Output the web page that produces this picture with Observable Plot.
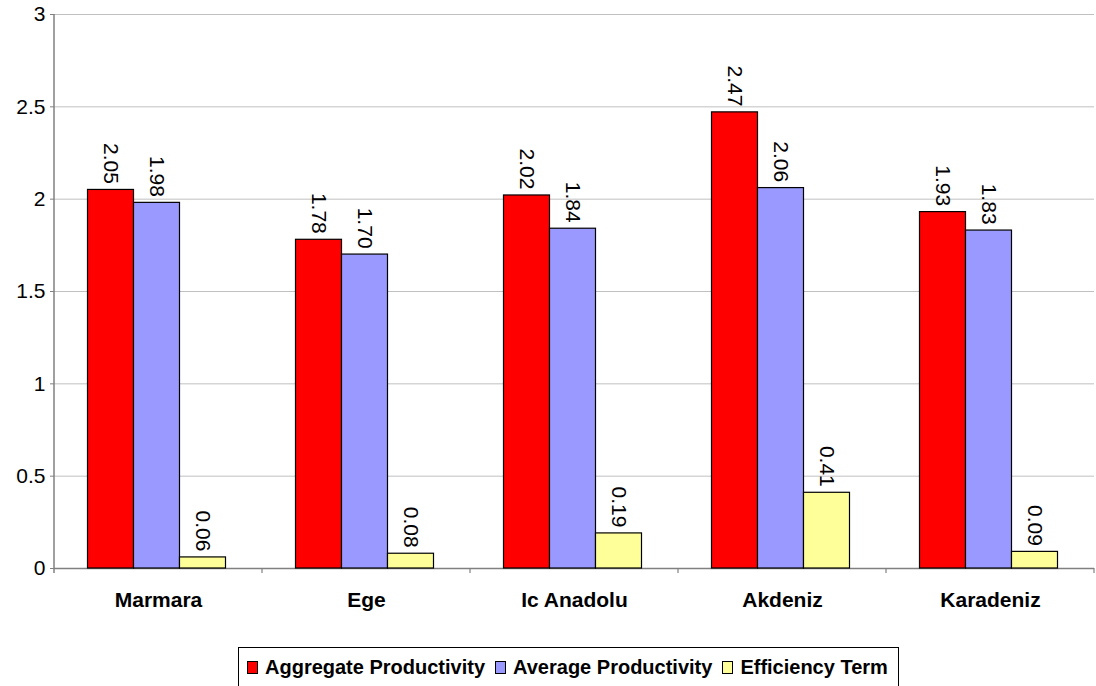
<!DOCTYPE html>
<html>
<head>
<meta charset="utf-8">
<script src="https://cdn.jsdelivr.net/npm/d3@7"></script>
<script src="https://cdn.jsdelivr.net/npm/@observablehq/plot@0.6"></script>
<style>
  body { margin: 0; background: #fff; font-family: Arial, "Liberation Sans", sans-serif; }
  #wrap { position: relative; width: 1096px; height: 686px; overflow: hidden; }
  #legend {
    position: absolute; left: 238px; top: 647px; height: 40px;
    border: 1px solid #000; box-sizing: border-box; background: #fff;
    display: inline-flex; align-items: center; padding: 0 10px 0 8px;
    font-weight: bold; font-size: 20px; color: #000;
  }
  #legend .item { display: flex; align-items: center; margin-right: 10px; white-space: nowrap; }
  #legend .item:last-child { margin-right: 0; }
  #legend .swatch { width: 9px; height: 11px; border: 1px solid #000; margin-right: 7px; }
</style>
</head>
<body>
<div id="wrap">
  <div id="chart"></div>
  <div id="legend"></div>
</div>
<script>
// Regional productivity decomposition
const regions = ["Marmara", "Ege", "Ic Anadolu", "Akdeniz", "Karadeniz"];
const series = ["Aggregate Productivity", "Average Productivity", "Efficiency Term"];
const aggregate = [2.05, 1.78, 2.02, 2.47, 1.93];
const average = [1.98, 1.70, 1.84, 2.06, 1.83];
const efficiency = [0.06, 0.08, 0.19, 0.41, 0.09];
const colors = ["#ff0000", "#9999ff", "#ffff99"];
const yTicks = [0, 0.5, 1, 1.5, 2, 2.5, 3];

const rows = regions.flatMap((region, i) =>
  [aggregate[i], average[i], efficiency[i]].map((value, j) => ({ region, series: series[j], value }))
);

const font = "Arial, 'Liberation Sans', sans-serif";

const chart = Plot.plot({
  width: 1096,
  height: 630,
  marginTop: 14,
  marginBottom: 62,
  marginLeft: 52,
  marginRight: 0,
  style: { fontFamily: font, fontSize: "21px", color: "#000", background: "#fff" },
  fx: { domain: regions, padding: 0, label: null },
  x: { domain: series, paddingInner: 0, paddingOuter: 0.75, axis: null },
  y: { domain: [0, 3], label: null },
  color: { domain: series, range: colors },
  marks: [
    Plot.gridY(yTicks.filter(d => d > 0), { stroke: "#c0c0c0", strokeOpacity: 1, strokeWidth: 1 }),
    Plot.axisY(yTicks, {
      tickSize: 4, tickPadding: 5, stroke: "#808080",
      tickFormat: d => String(d), label: null
    }),
    Plot.axisFx({ anchor: "bottom", tickSize: 0, tickPadding: 24, fontWeight: "bold", label: null }),
    Plot.ruleY([0], { stroke: "#808080", strokeWidth: 1.5 }),
    Plot.barY(rows, {
      fx: "region", x: "series", y: "value", fill: "series",
      stroke: "#000", strokeWidth: 1.2, dx: -1.5
    }),
    Plot.text(rows, {
      fx: "region", x: "series", y: "value",
      text: d => d.value.toFixed(2),
      rotate: 90, textAnchor: "end", dy: -6, dx: -1.5, fill: "#000"
    })
  ]
});

document.getElementById("chart").appendChild(chart);

// Vertical axis line and category boundary ticks along the baseline
const fx = chart.scale("fx");
const y = chart.scale("y");
const svg = d3.select(chart);
const x0 = fx.apply(regions[0]);
const base = y.apply(0);
svg.append("line")
  .attr("x1", x0).attr("x2", x0)
  .attr("y1", y.apply(3)).attr("y2", base + 5)
  .attr("stroke", "#808080").attr("stroke-width", 1.5);
const bounds = regions.map(r => fx.apply(r)).concat([fx.apply(regions[regions.length - 1]) + fx.bandwidth]);
svg.selectAll(null).data(bounds.slice(1)).join("line")
  .attr("x1", d => d).attr("x2", d => d)
  .attr("y1", base).attr("y2", base + 5)
  .attr("stroke", "#808080").attr("stroke-width", 1.2);

// Legend
const legend = d3.select("#legend");
series.forEach((s, i) => {
  const item = legend.append("div").attr("class", "item");
  item.append("div").attr("class", "swatch").style("background", colors[i]);
  item.append("span").text(s);
});
</script>
</body>
</html>
